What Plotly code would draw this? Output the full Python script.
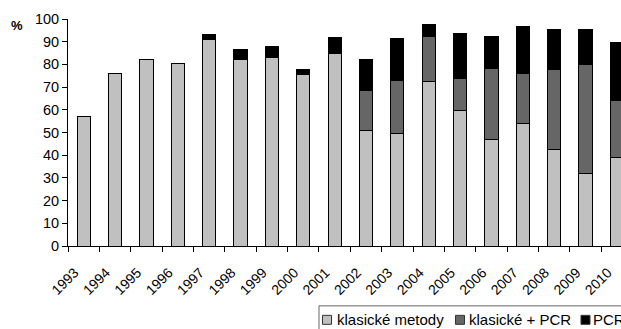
import plotly.graph_objects as go

years = [str(y) for y in range(1993, 2011)]
klasicke = [57, 76, 82, 80.4, 90.8, 82.3, 83.1, 75.4, 84.8, 50.8, 49.5, 72.6, 59.6, 46.9, 54.0, 42.6, 31.9, 38.8]
klasicke_pcr = [None, None, None, None, None, None, None, None, None, 17.9, 23.4, 19.6, 14.3, 31.1, 22.1, 35.3, 47.9, 25.2]
pcr = [None, None, None, None, 2.4, 4.4, 4.6, 2.3, 7.0, 13.3, 18.3, 5.2, 19.9, 14.5, 20.7, 17.6, 15.5, 25.6]
series_names = ["klasické metody", "klasické + PCR", "PCR"]
y_ticks = list(range(0, 101, 10))
grid_vals = list(range(10, 100, 10))

colors = ["#c0c0c0", "#666666", "#000000"]
FONT = "Liberation Sans, Arial, sans-serif"

W, H = 621, 329
L, R, T, B = 68, 0, 18.5, 83
pw, ph = W - L - R, H - T - B

def px_x(px):
    return (px - L) / pw

def px_y(py):
    return (H - B - py) / ph

fig = go.Figure()
for name, vals, col in zip(series_names, [klasicke, klasicke_pcr, pcr], colors):
    fig.add_trace(go.Bar(x=years, y=vals, name=name, width=0.42,
                         marker=dict(color=col, line=dict(color="#000000", width=1)),
                         showlegend=False))

fig.update_layout(
    template="none",
    width=W, height=H, barmode="stack",
    margin=dict(l=L, r=R, t=T, b=B, pad=0, autoexpand=False),
    plot_bgcolor="white", paper_bgcolor="white",
    font=dict(family=FONT, size=14, color="black"),
    xaxis=dict(type="category", range=[-0.5, 17.13], tickson="boundaries", automargin=False,
               ticks="outside", ticklen=5, tickcolor="black", tickwidth=1,
               showline=True, linecolor="black", linewidth=1, showgrid=False,
               tickangle=-45, ticklabelstandoff=12, ticklabelshift=-9,
               tickfont=dict(size=14, family=FONT)),
    yaxis=dict(range=[0, 100], tickvals=y_ticks, ticks="outside", ticklen=5, automargin=False,
               tickcolor="black", showline=True, linecolor="black", linewidth=1,
               showgrid=False, zeroline=False,
               tickfont=dict(size=14.5, family=FONT)),
    yaxis2=dict(overlaying="y", side="left", range=[0, 100], tickvals=grid_vals,
                showticklabels=False, ticks="", showline=False, automargin=False,
                showgrid=True, gridcolor="#222222", gridwidth=1, zeroline=False),
    xaxis2=dict(overlaying="x", side="top", range=[0, 1], showline=True, automargin=False,
                linecolor="#999999", linewidth=1, showticklabels=False,
                ticks="", showgrid=False, zeroline=False),
)

# % label
fig.add_annotation(text="<b>%</b>", x=px_x(17), y=px_y(25), xref="paper", yref="paper",
                   showarrow=False, font=dict(size=13, family=FONT), xanchor="center", yanchor="middle")

# legend box (clipped at the right edge as in the original)
shapes = [dict(type="rect", xref="paper", yref="paper", x0=px_x(319), x1=px_x(660),
               y0=px_y(306), y1=px_y(345), line=dict(color="#666666", width=1), fillcolor="white", layer="above")]
sq = [(322.5, 331.5), (455.5, 464.5), (581, 590)]
tx = [335.5, 467.5, 591.5]
for (a, b), t, name, col in zip(sq, tx, series_names, colors):
    shapes.append(dict(type="rect", xref="paper", yref="paper", x0=px_x(a), x1=px_x(b),
                       y0=px_y(315.5), y1=px_y(324.5), fillcolor=col,
                       line=dict(color="#333333", width=1), layer="above"))
    fig.add_annotation(text=name, x=px_x(t), y=px_y(320), xref="paper", yref="paper",
                       showarrow=False, xanchor="left", yanchor="middle", borderpad=0,
                       font=dict(size=15, family=FONT, color="black"))
fig.update_layout(shapes=shapes)

fig.write_html("out.html", config={"displayModeBar": False},
               post_script="document.body.style.margin='0';document.body.style.padding='0';document.body.style.overflow='hidden';")
